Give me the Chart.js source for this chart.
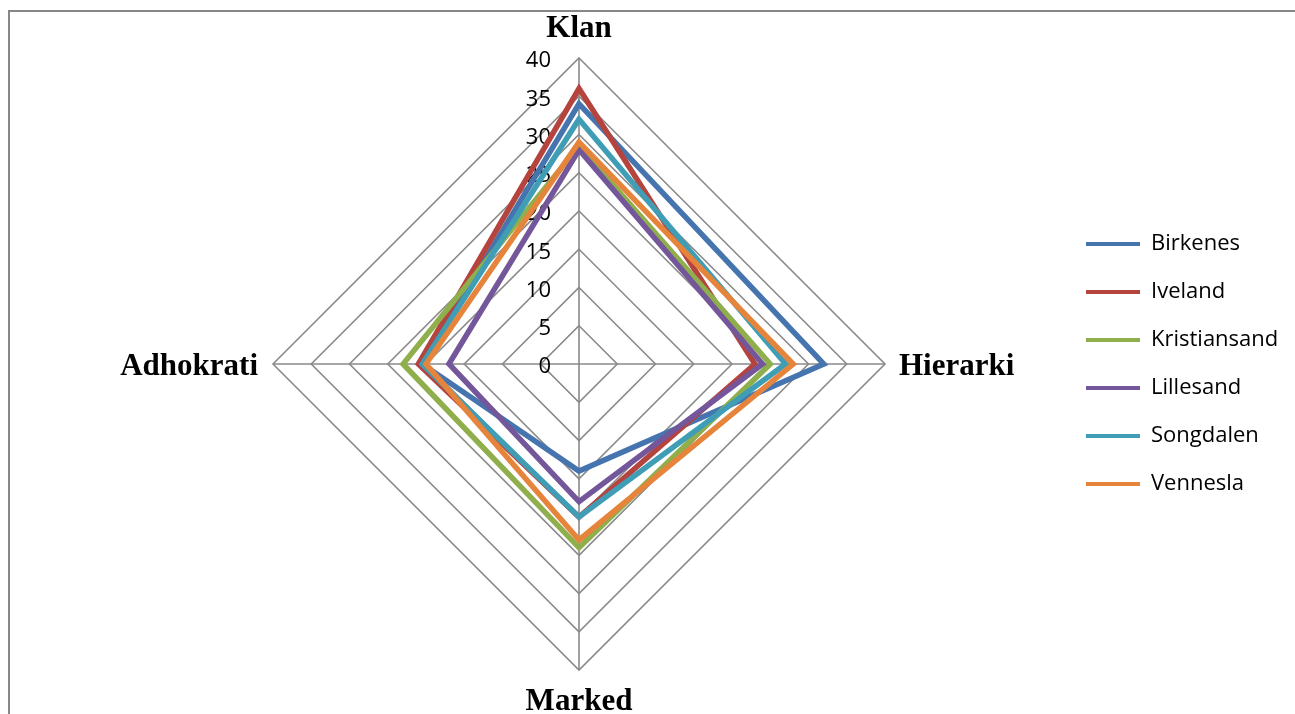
<!DOCTYPE html>
<html>
<head>
<meta charset="utf-8">
<script src="https://cdn.jsdelivr.net/npm/chart.js@4/dist/chart.umd.min.js"></script>
<style>
  html, body { margin: 0; padding: 0; background: #fff; overflow: hidden; }
  #frame { position: absolute; left: 8px; top: 10px; width: 1400px; height: 800px;
           border-left: 2px solid #878787; border-top: 2px solid #878787; }
  #wrap { position: absolute; left: 0; top: 0; width: 1295px; height: 714px; }
</style>
</head>
<body>
<div id="frame"></div>
<div id="wrap"><canvas id="c" width="1295" height="714"></canvas></div>
<script>
// Culture dimensions (radar axes, clockwise from top)
const categories = ['Klan', 'Hierarki', 'Marked', 'Adhokrati'];

// Municipality scores per dimension
const birkenes     = [34, 32, 14, 20.5];
const iveland      = [36, 23, 20, 21];
const kristiansand = [28.5, 25, 24, 23];
const lillesand    = [28, 24, 18, 17];
const songdalen    = [32, 27, 20, 20.5];
const vennesla     = [29, 28, 23, 20];

const seriesNames = ['Birkenes', 'Iveland', 'Kristiansand', 'Lillesand', 'Songdalen', 'Vennesla'];
const seriesValues = [birkenes, iveland, kristiansand, lillesand, songdalen, vennesla];
const seriesColors = ['#4674AE', '#B5443F', '#8FAF4C', '#73579A', '#3F9EB5', '#E5843A'];

// Radial axis range
const scaleMin = 0;
const scaleMax = 40;
const scaleStep = 5;

const tickFont = '22px "Open Sans", "Liberation Sans", sans-serif';
const axisTitleFont = 'bold 31px "Liberation Serif", "Times New Roman", serif';

// Tick values drawn to the left of the vertical axis
const tickLabelsPlugin = {
  id: 'tickLabels',
  beforeDatasetsDraw(chart) {
    const s = chart.scales.r;
    const ctx = chart.ctx;
    ctx.save();
    ctx.font = tickFont;
    ctx.fillStyle = '#000';
    ctx.textAlign = 'right';
    ctx.textBaseline = 'middle';
    s.ticks.forEach(t => {
      const d = s.getDistanceFromCenterForValue(t.value);
      ctx.fillText(String(t.value), s.xCenter - 28, s.yCenter - d + 3);
    });
    ctx.restore();
  }
};

// Bold dimension names just outside the outer polygon
const axisTitlesPlugin = {
  id: 'axisTitles',
  afterDraw(chart) {
    const s = chart.scales.r;
    const ctx = chart.ctx;
    ctx.save();
    ctx.font = axisTitleFont;
    ctx.fillStyle = '#000';
    ctx.textBaseline = 'alphabetic';
    categories.forEach((name, i) => {
      const p = s.getPointPosition(i, s.drawingArea);
      if (i === 0) {
        ctx.textAlign = 'center';
        ctx.fillText(name, p.x, p.y - 21);
      } else if (i === 1) {
        ctx.textAlign = 'left';
        ctx.fillText(name, p.x + 14, p.y + 11);
      } else if (i === 2) {
        ctx.textAlign = 'center';
        ctx.fillText(name, p.x, p.y + 40);
      } else {
        ctx.textAlign = 'right';
        ctx.fillText(name, p.x - 15, p.y + 11);
      }
    });
    ctx.restore();
  }
};

const datasets = seriesNames.map((name, i) => ({
  label: name,
  data: seriesValues[i],
  borderColor: seriesColors[i],
  backgroundColor: seriesColors[i],
  borderWidth: 5.5,
  borderJoinStyle: 'miter',
  pointRadius: 0,
  pointHoverRadius: 0,
  fill: false,
  tension: 0,
  // later series are painted on top
  order: seriesNames.length - i
}));

const chart = new Chart(document.getElementById('c'), {
  type: 'radar',
  data: { labels: categories, datasets },
  options: {
    responsive: false,
    animation: false,
    devicePixelRatio: 1,
    layout: { padding: { top: 58, bottom: 44, left: 98, right: 0 } },
    scales: {
      r: {
        min: scaleMin,
        max: scaleMax,
        startAngle: 0,
        ticks: { stepSize: scaleStep, display: false },
        grid: { color: '#8a8a8a', lineWidth: 1.6, circular: false },
        angleLines: { color: '#8a8a8a', lineWidth: 1.6 },
        pointLabels: { display: false }
      }
    },
    plugins: {
      legend: {
        position: 'right',
        align: 'center',
        labels: {
          font: { family: '"Open Sans", "Liberation Sans", sans-serif', size: 22 },
          color: '#000',
          boxWidth: 54,
          boxHeight: 4,
          padding: 26,
          sort: (a, b) => a.datasetIndex - b.datasetIndex,
          generateLabels(ch) {
            return ch.data.datasets.map((ds, i) => ({
              text: ds.label,
              fillStyle: ds.borderColor,
              strokeStyle: ds.borderColor,
              lineWidth: 0,
              hidden: false,
              datasetIndex: i
            }));
          }
        }
      },
      tooltip: { enabled: false }
    }
  },
  plugins: [tickLabelsPlugin, axisTitlesPlugin]
});

// Place the legend column so its left edge sits at x = 1060
const legendLeft = 1060;
chart.options.layout.padding.right = Math.max(0, 1295 - legendLeft - chart.legend.width);
chart.update();
</script>
</body>
</html>
